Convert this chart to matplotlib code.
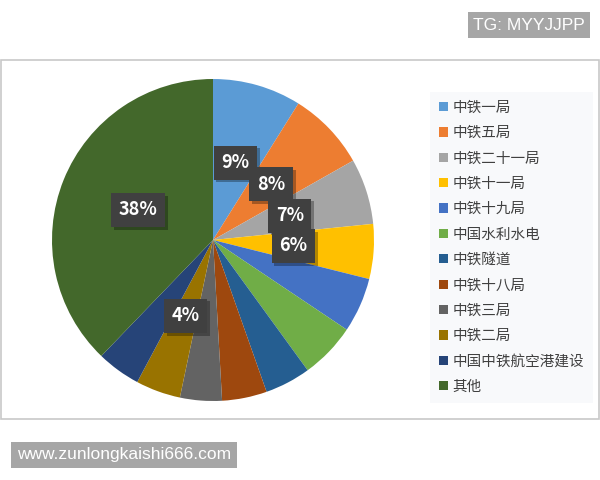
import matplotlib
matplotlib.use('Agg')
import matplotlib.pyplot as plt
from matplotlib.patches import Rectangle
import matplotlib.patheffects as pe
import numpy as np

plt.rcParams['font.family'] = ['Noto Sans CJK SC', 'DejaVu Sans']

# 各单位占比 (%)
names = ['中铁一局', '中铁五局', '中铁二十一局', '中铁十一局', '中铁十九局', '中国水利水电',
         '中铁隧道', '中铁十八局', '中铁三局', '中铁二局', '中国中铁航空港建设', '其他']
shares = [8.9, 7.9, 6.6, 5.5, 5.5, 5.6, 4.6, 4.5, 4.2, 4.5, 4.4, 37.8]
shown = ['9%', '8%', '7%', '6%', '', '', '', '', '', '4%', '', '38%']
colors = ['#5B9BD5', '#ED7D31', '#A5A5A5', '#FFC000', '#4472C4', '#70AD47',
          '#255E91', '#9E480E', '#636363', '#997300', '#264478', '#43682B']

fig = plt.figure(figsize=(6, 4.8), dpi=100)
W, H = 600, 480

# 图表外框
fig.patches.append(Rectangle((1 / W, 1 - 419 / H), 598 / W, 359 / H, transform=fig.transFigure,
                             fill=False, edgecolor='#c8c8c8', linewidth=1.2))

cx, cy, r = 213, 240, 161
ax = fig.add_axes([(cx - r) / W, (H - cy - r) / H, 2 * r / W, 2 * r / H])
wedges, _ = ax.pie(shares, colors=colors, startangle=90, counterclock=False,
                   wedgeprops=dict(linewidth=0))
ax.set_xlim(-1, 1)
ax.set_ylim(-1, 1)
ax.set_aspect('equal')

for w, txt in zip(wedges, shown):
    if not txt:
        continue
    ang = np.deg2rad((w.theta1 + w.theta2) / 2)
    x, y = 0.5 * np.cos(ang), 0.5 * np.sin(ang)
    t = ax.text(x, y, txt, ha='center', va='center', fontsize=13, fontweight='bold',
                color='white', bbox=dict(boxstyle='square,pad=0.42', fc='#404040', ec='none'))
    t.get_bbox_patch().set_path_effects([
        pe.SimplePatchShadow(offset=(2, -2), shadow_rgbFace='black', alpha=0.3), pe.Normal()])

leg = fig.legend(wedges, names, loc='upper left', bbox_to_anchor=(430 / W, 1 - 92 / H),
                 frameon=True, fontsize=10.5, labelspacing=0.78, handlelength=0.6,
                 handleheight=0.6, handletextpad=0.35, borderpad=0.6, borderaxespad=0)
leg.get_frame().set_facecolor('#f7f8fa')
leg.get_frame().set_edgecolor('none')
leg.get_frame().set_boxstyle('square', pad=0)
for t in leg.get_texts():
    t.set_color('#404040')

# 水印
fig.text(529 / W, 1 - 25 / H, 'TG: MYYJJPP', ha='center', va='center', color='white',
         fontsize=12.5, family='Liberation Sans',
         bbox=dict(boxstyle='square,pad=0.32', fc='#a6a6a6', ec='none'))
fig.text(124 / W, 1 - 455 / H, 'www.zunlongkaishi666.com', ha='center', va='center',
         color='white', fontsize=12.5, family='Liberation Sans',
         bbox=dict(boxstyle='square,pad=0.32', fc='#a6a6a6', ec='none'))

fig.savefig('out.png', dpi=100)
